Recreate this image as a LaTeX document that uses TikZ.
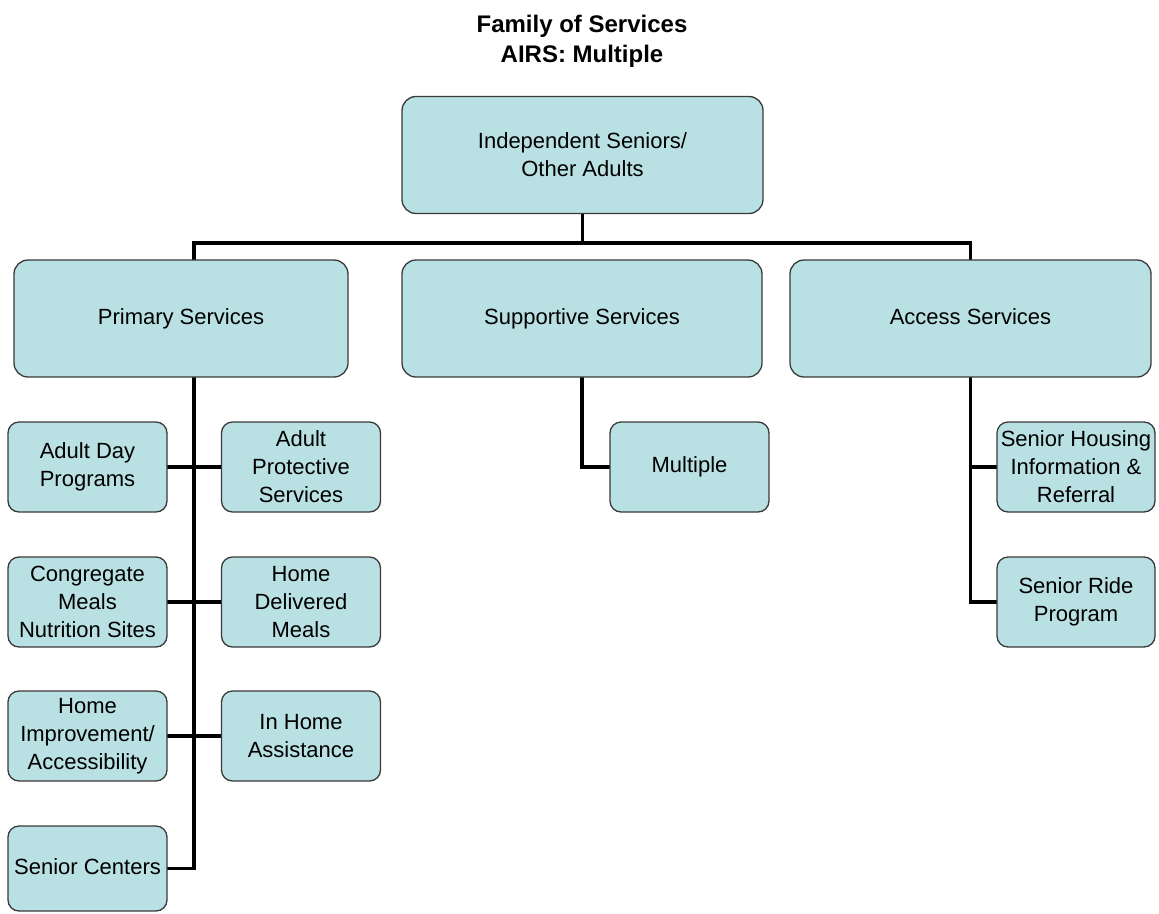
\documentclass[tikz,border=0pt]{standalone}
\usepackage{fontspec}
\setmainfont{Liberation Sans}
\definecolor{boxfill}{HTML}{B9E0E3}
\definecolor{boxline}{HTML}{3A3A3A}
\begin{document}
\begin{tikzpicture}[x=1pt,y=-1pt,
  box/.style={draw=boxline, line width=1.3pt, fill=boxfill, rounded corners=14pt,
    inner sep=0pt, align=center, font=\fontsize{22}{28}\selectfont},
  bigbox/.style={box, minimum height=117pt},
  smallbox/.style={box, rounded corners=11pt, minimum width=159pt, minimum height=90pt},
  conn/.style={line width=3.6pt, black, line cap=rect}]
\useasboundingbox (0,0) rectangle (1159,913);
\fill[white] (0,0) rectangle (1159,913);

\node[font=\bfseries\fontsize{24}{30}\selectfont, align=center] (title) at (582,41) {Family of Services\\AIRS: Multiple};

\coordinate (pl) at (194,243);
\coordinate (ar) at (970.5,243);

% connectors
\draw[conn] (582.5,213) -- (582.5,243);
\draw[conn] (194,260) -- (pl) -- (ar) -- (970.5,260);
\draw[conn] (194,377) -- (194,868.5) -- (167,868.5);
\draw[conn] (167,467) -- (221,467);
\draw[conn] (167,602) -- (221,602);
\draw[conn] (167,736) -- (221,736);
\draw[conn] (582,377) -- (582,467) -- (610,467);
\draw[conn] (970.5,377) -- (970.5,602) -- (997,602);
\draw[conn] (970.5,467) -- (997,467);

% nodes
\node[bigbox, minimum width=361pt] (top) at (582.5,155) {Independent Seniors/\\Other Adults};
\node[bigbox, minimum width=334pt] (prim) at (181,318.5) {\strut Primary Services};
\node[bigbox, minimum width=360pt] (supp) at (582,318.5) {\strut Supportive Services};
\node[bigbox, minimum width=361pt] (acc) at (970.5,318.5) {\strut Access Services};

\node[smallbox] (adp) at (87.5,467) {Adult Day\\Programs};
\node[smallbox] (aps) at (301,467) {Adult\\Protective\\Services};
\node[smallbox] (cmn) at (87.5,602) {Congregate\\Meals\\Nutrition Sites};
\node[smallbox] (hdm) at (301,602) {Home\\Delivered\\Meals};
\node[smallbox] (hia) at (87.5,736) {Home\\Improvement/\\Accessibility};
\node[smallbox] (iha) at (301,736) {In Home\\Assistance};
\node[smallbox, minimum height=85pt] (sc) at (87.5,868.5) {\strut Senior Centers};
\node[smallbox] (mult) at (689.5,467) {\strut Multiple};
\node[smallbox, minimum width=158pt] (shir) at (1076,467) {Senior Housing\\Information \&\\Referral};
\node[smallbox, minimum width=158pt] (srp) at (1076,602) {Senior Ride\\Program};
\end{tikzpicture}
\end{document}
